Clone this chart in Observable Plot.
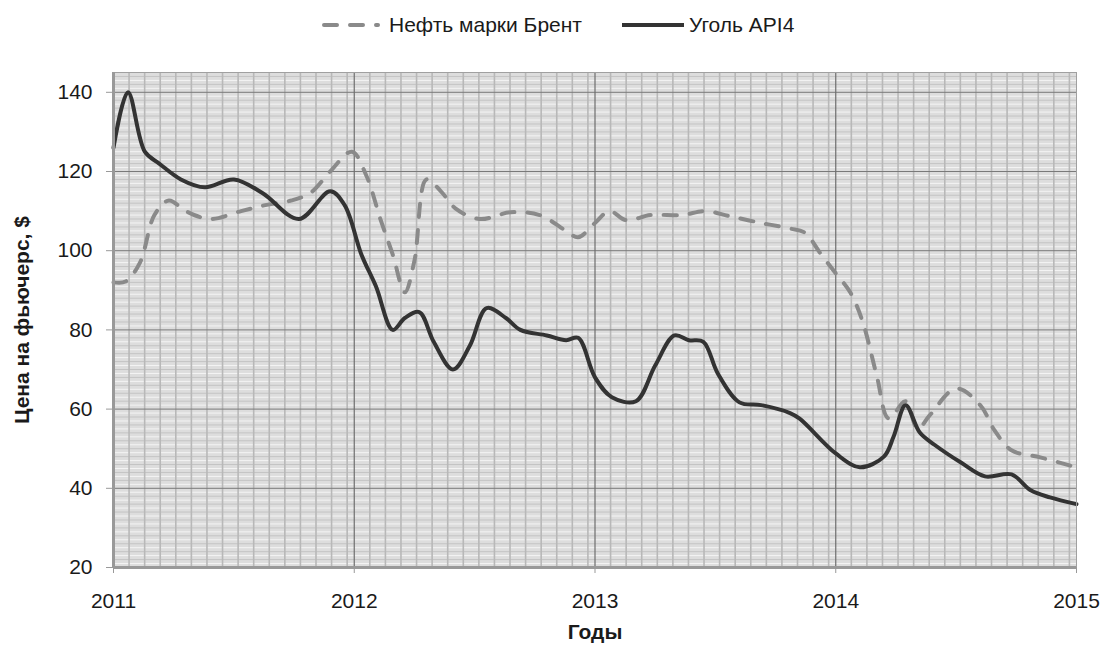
<!DOCTYPE html>
<html>
<head>
<meta charset="utf-8">
<script src="https://cdn.jsdelivr.net/npm/d3@7"></script>
<script src="https://cdn.jsdelivr.net/npm/@observablehq/plot@0.6"></script>
<style>
  html, body { margin: 0; padding: 0; background: #fff; }
  body { width: 1105px; height: 649px; overflow: hidden; font-family: "Liberation Sans", Arial, sans-serif; }
  #legend { height: 50px; position: relative; font-size: 21px; color: #1a1a1a; }
  #legend .item { position: absolute; top: 12px; display: flex; align-items: center; line-height: 26px; }
  #legend svg { display: block; }
</style>
</head>
<body>
<div id="legend"></div>
<div id="chart"></div>
<script>
// ---- data ----
const seriesNames = ["Нефть марки Брент", "Уголь API4"];
const xTicks = [2011, 2012, 2013, 2014, 2015];
const yTicks = [20, 40, 60, 80, 100, 120, 140];

const brentTime = [2011.0, 2011.05, 2011.11, 2011.17, 2011.23, 2011.3, 2011.4, 2011.53, 2011.63, 2011.74, 2011.82, 2011.9, 2011.99, 2012.05, 2012.11, 2012.16, 2012.21, 2012.25, 2012.3, 2012.36, 2012.42, 2012.52, 2012.65, 2012.77, 2012.88, 2012.93, 2013.0, 2013.06, 2013.13, 2013.23, 2013.36, 2013.46, 2013.56, 2013.69, 2013.81, 2013.87, 2013.94, 2014.0, 2014.06, 2014.11, 2014.17, 2014.22, 2014.29, 2014.34, 2014.39, 2014.5, 2014.6, 2014.66, 2014.73, 2014.85, 2015.0];
const brentPrice = [92, 92.2, 97, 109, 112.7, 110, 108, 110, 111.5, 112.7, 114.7, 120, 125, 119, 107.7, 99, 89.5, 97.5, 118, 115, 110.7, 108, 109.7, 109, 105, 103.4, 107, 110, 107.7, 109, 109, 110, 108.7, 107, 105.6, 104.6, 99, 94.3, 89.5, 82.4, 68.5, 57.6, 62, 55, 58.4, 65.2, 61, 54.6, 49.6, 47.8, 45.3];

const coalTime = [2011.0, 2011.06, 2011.13, 2011.19, 2011.28, 2011.38, 2011.5, 2011.62, 2011.77, 2011.9, 2011.96, 2012.03, 2012.09, 2012.16, 2012.21, 2012.27, 2012.33, 2012.41, 2012.48, 2012.55, 2012.63, 2012.69, 2012.8, 2012.88, 2012.93, 2013.0, 2013.07, 2013.17, 2013.25, 2013.33, 2013.39, 2013.45, 2013.51, 2013.6, 2013.69, 2013.81, 2013.85, 2014.0, 2014.1, 2014.2, 2014.24, 2014.29, 2014.35, 2014.41, 2014.52, 2014.62, 2014.73, 2014.81, 2014.89, 2015.0];
const coalPrice = [126, 140, 125, 122, 118, 116, 118, 114.5, 108, 115, 111.5, 99, 91, 80, 83, 84.5, 77, 70, 76, 85.5, 83, 80, 78.6, 77.4, 78, 68, 63, 62, 71, 78.6, 77.4, 77, 69, 61.7, 61, 59, 57.6, 48.8, 45.3, 48, 53, 61, 54, 51, 46.5, 43, 43.5, 39.5, 37.7, 36];

// ---- build tables ----
const brent = brentTime.map((t, i) => ({t, v: brentPrice[i]}));
const coal = coalTime.map((t, i) => ({t, v: coalPrice[i]}));

// grid positions
const hMinor = d3.range(21, 145).filter(v => v % 20 !== 0);
const vMinor = [];
for (const y of xTicks.slice(0, -1)) for (let k = 1; k <= 15; k++) vMinor.push(y + k * 0.0647);

// ---- legend ----
const legend = document.getElementById("legend");
legend.innerHTML = `
  <div class="item" style="left:321px">
    <svg width="60" height="10"><line x1="3" y1="5" x2="57" y2="5" stroke="#8a8a8a" stroke-width="4" stroke-dasharray="13,13" stroke-linecap="round"/></svg>
    <span style="margin-left:8px">${seriesNames[0]}</span>
  </div>
  <div class="item" style="left:622px">
    <svg width="62" height="10"><line x1="0" y1="5" x2="62" y2="5" stroke="#333" stroke-width="4"/></svg>
    <span style="margin-left:5px">${seriesNames[1]}</span>
  </div>`;

// ---- chart ----
const chart = Plot.plot({
  width: 1105,
  height: 599,
  marginTop: 22,
  marginBottom: 82,
  marginLeft: 113,
  marginRight: 29,
  style: {fontFamily: "'Liberation Sans', Arial, sans-serif", fontSize: "21px", color: "#1a1a1a", background: "#fff"},
  x: {domain: [2011, 2015]},
  y: {domain: [20, 145]},
  marks: [
    Plot.frame({fill: "#dddddd"}),
    Plot.ruleY(hMinor, {stroke: d => (d % 2 ? "#f4f4f4" : "#c4c4c4"), strokeWidth: 1}),
    Plot.ruleX(vMinor, {stroke: "#b8b8b8", strokeWidth: 1.6}),
    Plot.ruleY(yTicks.slice(1), {stroke: "#7a7a7a", strokeWidth: 1}),
    Plot.ruleX(xTicks.slice(1, -1), {stroke: "#6e6e6e", strokeWidth: 1.2}),
    Plot.line(brent, {x: "t", y: "v", stroke: "#8a8a8a", strokeWidth: 4, strokeDasharray: "13,13", strokeLinecap: "round", curve: "catmull-rom"}),
    Plot.line(coal, {x: "t", y: "v", stroke: "#333", strokeWidth: 4, curve: "catmull-rom"}),
    Plot.frame({stroke: "#a0a0a0", strokeWidth: 1}),
    Plot.ruleY([20], {stroke: "#999", strokeWidth: 3}),
    Plot.ruleX([2011], {stroke: "#999", strokeWidth: 3}),
    Plot.axisX({ticks: xTicks, tickFormat: d => String(d), tickSize: 6, tickPadding: 20, label: null, stroke: "#999", fontSize: 21}),
    Plot.axisY({ticks: yTicks, tickSize: 7, tickPadding: 14, label: null, stroke: "#999", fontSize: 21}),
    Plot.text(["Годы"], {frameAnchor: "bottom", dy: 71, fontWeight: "bold", fontSize: 21, fill: "#1a1a1a"}),
    Plot.text(["Цена на фьючерс, $"], {frameAnchor: "left", dx: -91, rotate: -90, textAnchor: "middle", fontWeight: "bold", fontSize: 21, fill: "#1a1a1a"})
  ]
});
document.getElementById("chart").appendChild(chart);
</script>
</body>
</html>
